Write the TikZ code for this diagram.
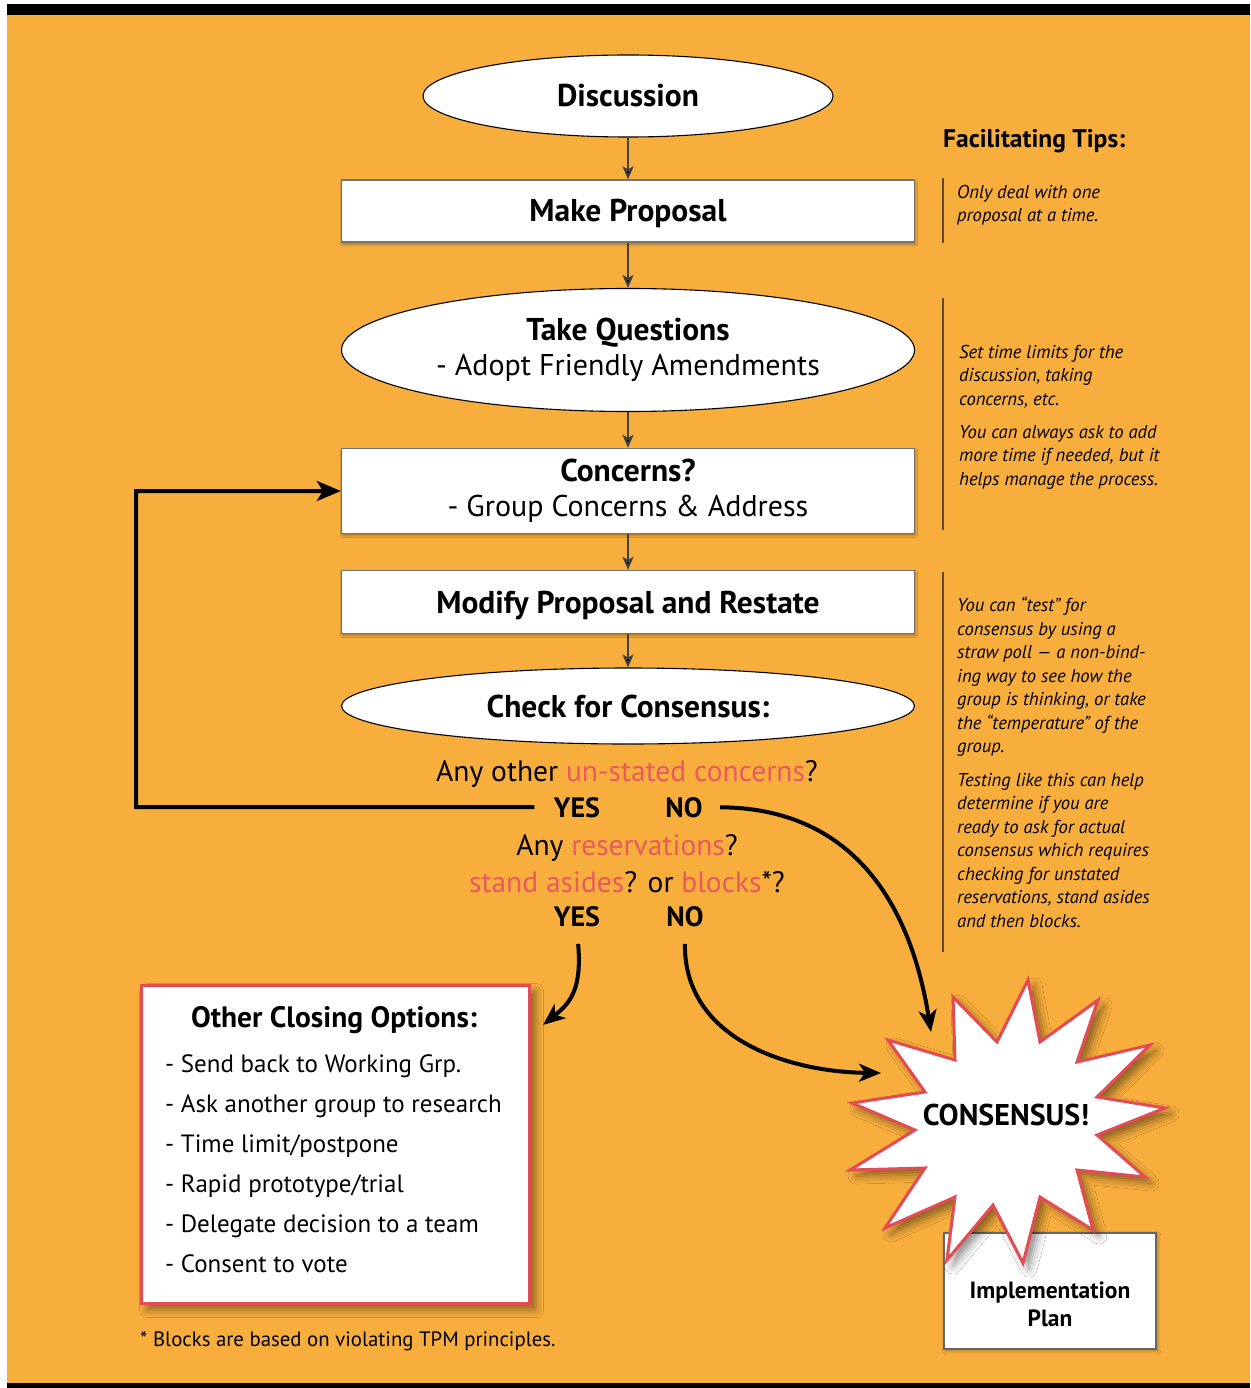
\documentclass[tikz,border=0pt]{standalone}
\usepackage{fontspec}
\setmainfont{PT Sans}
\usetikzlibrary{arrows.meta,shapes.geometric,shadows,shadows.blur}
\definecolor{bgor}{HTML}{F8AE3C}
\definecolor{redb}{HTML}{E44C55}
\definecolor{pinkt}{HTML}{E85A60}
\definecolor{tipline}{HTML}{5C4A2E}
\newcommand{\myfs}[2]{\fontsize{#1pt}{#2pt}\selectfont}
\begin{document}
\begin{tikzpicture}[x=1pt,y=-1pt,
  box/.style={draw=black!55, line width=1.3pt, fill=white, minimum width=573pt, inner sep=0pt,
    blur shadow={shadow xshift=1pt, shadow yshift=-2pt, shadow blur radius=2pt, shadow opacity=35}},
  ell/.style={ellipse, draw=black, line width=1.1pt, fill=white, inner sep=0pt},
  flow/.style={draw=black!75, line width=2pt, -{Stealth[length=13pt,width=11pt,inset=3pt,fill=black]}},
  big/.style={line width=4pt, -{Stealth[length=24pt,width=20pt,inset=6pt]}},
  ttl/.style={font=\myfs{30}{35}, align=center},
  one/.style={font=\myfs{31.5}{35}\bfseries, text height=22pt, text depth=0pt},
  qtxt/.style={font=\myfs{29.5}{32}, anchor=base},
  yn/.style={font=\myfs{28}{32}\bfseries, anchor=base},
  tip/.style={font=\myfs{18.6}{23.5}\itshape, anchor=north west, inner sep=0pt, align=left},
  tipbar/.style={draw=tipline, line width=2pt},
  opt/.style={font=\myfs{25}{40}, anchor=north west, inner sep=0pt, align=left}
]
% background and frame
\useasboundingbox (0,0) rectangle (1250,1388);
\fill[white] (0,0) rectangle (1250,1388);
\fill[bgor] (7,15) rectangle (1250,1383);
\fill[black] (7,4) rectangle (1250,15);
\fill[black] (7,1383) rectangle (1250,1388);

% main flow nodes
\node[ell, minimum width=410pt, minimum height=82pt, one] (disc) at (628,96) {Discussion};
\node[box, minimum height=62pt, one] (prop) at (628,211) {Make Proposal};
\node[ell, minimum width=573pt, minimum height=123pt, ttl] (tq) at (628,350)
  {{\myfs{31.5}{35}\bfseries Take Questions}\\- Adopt Friendly Amendments};
\node[box, minimum height=85pt, ttl] (conc) at (628,491)
  {{\myfs{31.5}{35}\bfseries Concerns?}\\- Group Concerns \& Address};
\node[box, minimum height=63pt, one] (mod) at (628,602) {Modify Proposal and Restate};
\node[ell, minimum width=573pt, minimum height=76pt, one] (chk) at (628,706) {Check for Consensus:};

\draw[flow] (disc.south) -- (prop.north);
\draw[flow] (prop.south) -- (tq.north);
\draw[flow] (tq.south) -- (conc.north);
\draw[flow] (conc.south) -- (mod.north);
\draw[flow] (mod.south) -- (chk.north);

% questions
\node[qtxt] (q1) at (627,781) {Any other {\color{pinkt}un-stated concerns}?};
\node[yn] (yes1) at (577,817) {YES};
\node[yn] (no1) at (684,817) {NO};
\node[qtxt] (q2) at (627,855) {Any {\color{pinkt}reservations}?};
\node[qtxt] (q3) at (627,892) {{\color{pinkt}stand asides}? or {\color{pinkt}blocks}*?};
\node[yn] (yes2) at (577,926) {YES};
\node[yn] (no2) at (685,926) {NO};

% loop back to concerns
\coordinate (loopc) at (136,807);
\draw[big, shorten <=16pt] (yes1.west) -- (loopc) |- (conc.west);

% facilitating tips
\node[font=\myfs{25.5}{28}\bfseries, anchor=west, inner sep=0pt] (fth) at (943,141) {Facilitating Tips:};
\coordinate (b1t) at (943,178); \coordinate (b1b) at (943,243);
\coordinate (b2t) at (943,298); \coordinate (b2b) at (943,530);
\coordinate (b3t) at (943,572); \coordinate (b3b) at (943,952);
\draw[tipbar] (b1t) -- (b1b);
\draw[tipbar] (b2t) -- (b2b);
\draw[tipbar] (b3t) -- (b3b);
\node[tip] (t1) at (957,185) {Only deal with one\\proposal at a time.};
\node[tip] (t2) at (959,345) {Set time limits for the\\discussion, taking\\concerns, etc.};
\node[tip] (t3) at (959,425) {You can always ask to add\\more time if needed, but it\\helps manage the process.};
\node[tip] (t4) at (957,597) {You can “test” for\\consensus by using a\\straw poll — a non-bind-\\ing way to see how the\\group is thinking, or take\\the “temperature” of the\\group.};
\node[tip] (t5) at (957,773) {Testing like this can help\\determine if you are\\ready to ask for actual\\consensus which requires\\checking for unstated\\reservations, stand asides\\and then blocks.};

% other closing options
\node[draw=redb, line width=3pt, fill=white, minimum width=388pt, minimum height=318pt, anchor=north west,
  blur shadow={shadow xshift=6pt, shadow yshift=-6pt, shadow blur radius=8pt, shadow opacity=45}] (other) at (140,984) {};
\node[font=\myfs{29.5}{32}\bfseries] (othert) at (334,1020) {Other Closing Options:};
\node[opt] (opts) at (165,1054) {- Send back to Working Grp.\\- Ask another group to research\\- Time limit/postpone\\- Rapid prototype/trial\\- Delegate decision to a team\\- Consent to vote};
\node[font=\myfs{20.8}{24}, anchor=west, inner sep=0pt] (foot) at (140,1341) {* Blocks are based on violating TPM principles.};

% implementation plan
\node[draw=black!60, line width=1.5pt, fill=white, minimum width=212pt, minimum height=116pt, anchor=north west,
  blur shadow={shadow xshift=2pt, shadow yshift=-2pt, shadow blur radius=3pt, shadow opacity=30}] (impl) at (943,1232) {};
\node[font=\myfs{23.5}{28}\bfseries, align=center] (implt) at (1050,1304) {Implementation\\Plan};

% consensus star
\filldraw[draw=redb, line width=3pt, fill=white, line join=miter,
  blur shadow={shadow xshift=6pt, shadow yshift=-6pt, shadow blur radius=8pt, shadow opacity=45}]
  (1028,980) -- (1040,1042) -- (1098,1000) -- (1077,1062) -- (1150,1045) -- (1097,1097) --
  (1165,1108) -- (1097,1135) -- (1145,1177) -- (1077,1170) -- (1093,1230) -- (1040,1197) --
  (1023,1263) -- (993,1205) -- (947,1260) -- (955,1197) -- (885,1228) -- (925,1168) --
  (850,1170) -- (915,1130) -- (852,1103) -- (925,1092) -- (888,1040) -- (955,1060) --
  (953,997) -- (997,1042) -- cycle;
\node[font=\myfs{30}{32}\bfseries] (cons) at (1006,1115) {CONSENSUS!};
\coordinate (starA) at (931,1032);
\coordinate (starB) at (881,1073);

% decision arrows
\draw[big, -{Stealth[length=22pt,width=18pt,inset=6pt]}, shorten <=14pt]
  (no1.east) .. controls (850,808) and (910,900) .. (starA);
\draw[big, -{Stealth[length=22pt,width=18pt,inset=6pt]}, shorten <=14pt]
  (yes2.south) .. controls (582,990) and (570,1003) .. (543,1025);
\draw[big, -{Stealth[length=22pt,width=18pt,inset=6pt]}, shorten <=14pt]
  (no2.south) .. controls (684,1040) and (790,1072) .. (starB);
\end{tikzpicture}
\end{document}
